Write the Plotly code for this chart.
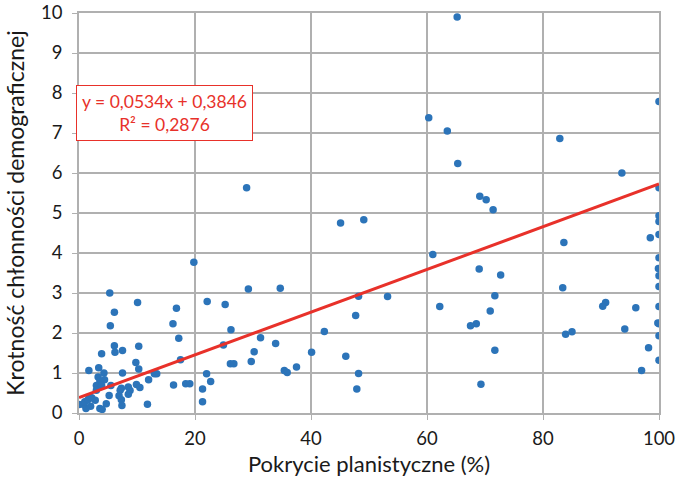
import plotly.graph_objects as go

# Pokrycie planistyczne (%) vs krotność chłonności demograficznej
pokrycie = [
    65.2, 60.3, 63.5, 65.3, 69.1, 70.2, 71.4, 61.0, 69.0, 72.7, 71.7, 62.2, 70.9, 68.5, 67.5, 71.7, 69.3,
    100, 82.9, 93.6, 100, 100, 100, 98.5, 100, 83.6, 100, 99.9, 100, 100, 83.4, 90.8, 90.3, 96.0, 100,
    100, 99.8, 94.1, 83.9, 85.0, 100, 98.2, 100, 97.0,
    45.1, 49.1, 34.7, 48.2, 53.2, 47.7, 42.3, 40.1, 46.0, 35.4, 35.9, 37.5, 48.2, 47.9,
    28.9, 19.8, 29.2, 16.8, 22.1, 25.2, 16.2, 26.2, 17.2, 31.3, 24.9, 33.9, 17.5, 30.2, 29.7, 26.1, 26.7,
    12.0, 13.4, 13.0, 22.0, 22.7, 16.3, 18.4, 19.1, 21.3, 21.3, 11.8,
    5.3, 10.1, 6.1, 5.4, 6.1, 6.2, 7.5, 10.3, 3.9, 1.7, 3.4, 4.3, 3.3, 4.4, 3.6, 3.0, 3.9, 7.5, 9.8,
    10.3, 9.9, 10.5, 8.5, 7.3, 5.5, 7.1, 8.8, 5.2, 6.9, 7.3, 8.5, 7.4, 4.7, 3.6, 4.0, 2.8, 2.0, 1.2,
    0.7, 0.0, 1.0, 1.6, 2.2, 3.0, 1.8,
]
krotnosc = [
    9.9, 7.38, 7.05, 6.24, 5.42, 5.33, 5.08, 3.96, 3.6, 3.45, 2.93, 2.66, 2.55, 2.23, 2.18, 1.57, 0.72,
    7.79, 6.86, 6.0, 5.63, 4.93, 4.79, 4.38, 4.46, 4.26, 3.88, 3.61, 3.43, 3.16, 3.13, 2.76, 2.67, 2.63, 2.66,
    2.23, 2.25, 2.1, 1.97, 2.03, 1.93, 1.63, 1.32, 1.06,
    4.75, 4.83, 3.12, 2.92, 2.91, 2.44, 2.04, 1.52, 1.42, 1.06, 1.01, 1.15, 0.99, 0.6,
    5.63, 3.77, 3.1, 2.62, 2.79, 2.71, 2.23, 2.08, 1.87, 1.88, 1.7, 1.74, 1.33, 1.53, 1.29, 1.23, 1.23,
    0.83, 0.98, 0.98, 0.98, 0.79, 0.7, 0.73, 0.73, 0.6, 0.28, 0.22,
    3.0, 2.76, 2.52, 2.18, 1.68, 1.52, 1.56, 1.67, 1.48, 1.06, 1.13, 1.0, 0.9, 0.83, 0.8, 0.69, 0.69, 1.0, 1.26,
    1.1, 0.71, 0.64, 0.65, 0.62, 0.69, 0.57, 0.56, 0.44, 0.43, 0.33, 0.47, 0.19, 0.23, 0.11, 0.09, 0.32, 0.17, 0.11,
    0.22, 0.21, 0.28, 0.34, 0.38, 0.57, 0.4,
]

# linear trend line y = a*x + b
slope = 0.0534
intercept = 0.3846
r2 = 0.2876
trend_x = [0, 100]
trend_y = [slope * v + intercept for v in trend_x]

FONT = "Lato"
RED = "#e8312a"
BLUE = "#2c74b9"
GRID = "#b0b0b0"
TXT = "#1a1a1a"

fig = go.Figure()
fig.add_trace(go.Scatter(
    x=pokrycie, y=krotnosc, mode="markers",
    marker=dict(color=BLUE, size=7.5, line=dict(width=0)),
    hoverinfo="x+y", showlegend=False,
))
fig.add_trace(go.Scatter(
    x=trend_x, y=trend_y, mode="lines",
    line=dict(color=RED, width=3),
    hoverinfo="skip", showlegend=False,
))

eq_text = ("y = " + f"{slope:.4f}".replace(".", ",") + "x + " + f"{intercept:.4f}".replace(".", ",")
           + "<br>R² = " + f"{r2:.4f}".replace(".", ","))
fig.add_annotation(
    x=14.7, y=7.49, xref="x", yref="y",
    text=eq_text, showarrow=False, align="center",
    font=dict(family=FONT, size=17.5, color=RED),
    bgcolor="white", bordercolor=RED, borderwidth=1, borderpad=5,
)

fig.update_xaxes(
    range=[0, 100], tickvals=[0, 20, 40, 60, 80, 100], automargin=False,
    showgrid=True, gridcolor=GRID, gridwidth=1.5,
    zeroline=False, showline=True, linecolor=GRID, linewidth=1.5, mirror=True,
    ticks="outside", ticklen=5, tickcolor=GRID, ticklabelstandoff=3,
    tickfont=dict(family=FONT, size=18.5, color=TXT),
    title=dict(text="Pokrycie planistyczne (%)", font=dict(family=FONT, size=22, color=TXT), standoff=9),
)
fig.update_yaxes(
    range=[0, 10], tickvals=list(range(11)), automargin=False,
    showgrid=True, gridcolor=GRID, gridwidth=1.5,
    zeroline=False, showline=True, linecolor=GRID, linewidth=1.5, mirror=True,
    ticks="outside", ticklen=5, tickcolor=GRID, ticklabelstandoff=6,
    tickfont=dict(family=FONT, size=18.5, color=TXT),
    title=dict(text="Krotność chłonności demograficznej", font=dict(family=FONT, size=23, color=TXT), standoff=10),
)
fig.update_layout(
    width=676, height=482,
    margin=dict(l=79, r=17, t=13, b=69),
    paper_bgcolor="white", plot_bgcolor="white",
)

fig.write_html("out.html")
